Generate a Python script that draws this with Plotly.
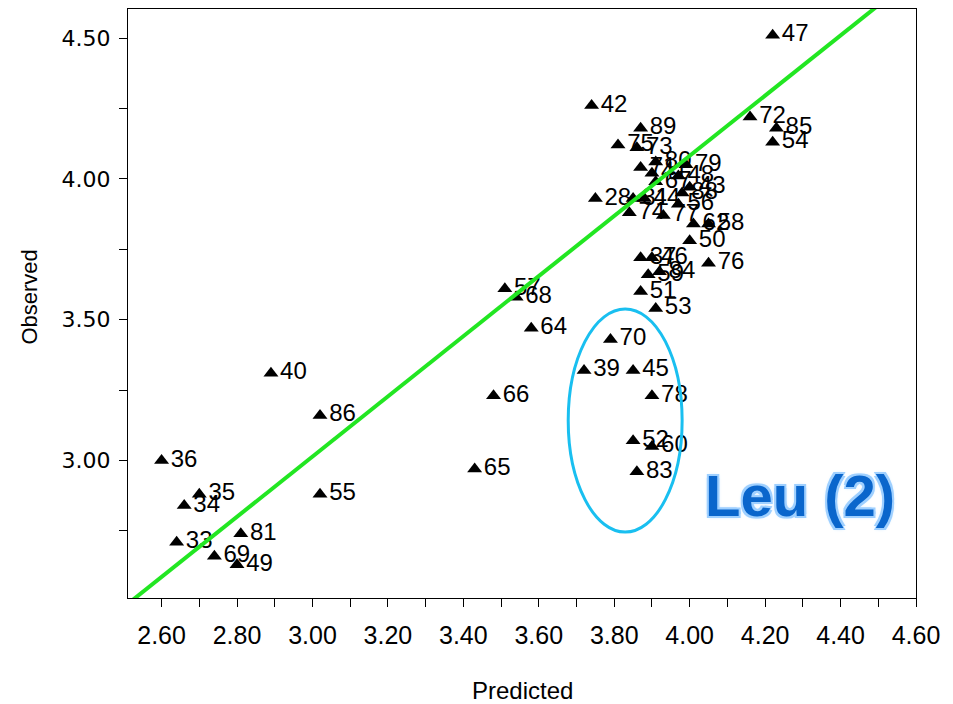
import plotly.graph_objects as go

# Compound IDs with predicted / observed activity
ids = ["33", "34", "35", "36", "49", "69", "81", "40", "86", "55",
       "65", "66", "64", "57", "68",
       "70", "39", "45", "78", "52", "60", "83",
       "42", "89", "75", "73", "71", "80", "41", "79", "48", "67", "43",
       "28", "31", "44", "88", "56", "74", "77", "62", "58", "50",
       "37", "46", "59", "84", "51", "53", "76",
       "72", "85", "54", "47"]
predicted = [2.64, 2.66, 2.70, 2.60, 2.80, 2.74, 2.81, 2.89, 3.02, 3.02,
             3.43, 3.48, 3.58, 3.51, 3.54,
             3.79, 3.72, 3.85, 3.90, 3.85, 3.90, 3.86,
             3.74, 3.87, 3.81, 3.86, 3.87, 3.91, 3.90, 3.99, 3.97, 3.91, 4.00,
             3.75, 3.85, 3.88, 3.98, 3.97, 3.84, 3.93, 4.01, 4.05, 4.00,
             3.87, 3.90, 3.89, 3.92, 3.87, 3.91, 4.05,
             4.16, 4.23, 4.22, 4.22]
observed = [2.71, 2.84, 2.88, 3.00, 2.63, 2.66, 2.74, 3.31, 3.16, 2.88,
            2.97, 3.23, 3.47, 3.61, 3.58,
            3.43, 3.32, 3.32, 3.23, 3.07, 3.05, 2.96,
            4.26, 4.18, 4.12, 4.11, 4.04, 4.06, 4.02, 4.05, 4.01, 3.99, 3.97,
            3.93, 3.93, 3.93, 3.95, 3.91, 3.88, 3.87, 3.84, 3.84, 3.78,
            3.72, 3.72, 3.66, 3.67, 3.60, 3.54, 3.70,
            4.22, 4.18, 4.13, 4.51]

# Regression line
fit_slope = 1.068
fit_intercept = -0.19
fit_x = [2.52, 4.50]
fit_y = [fit_slope * v + fit_intercept for v in fit_x]

# Outlier group outline (predicted / observed bounds)
group_x = [3.678, 3.980]
group_y = [2.746, 3.538]

x_ticks = [round(2.6 + 0.1 * i, 2) for i in range(21)]
x_labels = [f"{v:.2f}" if i % 2 == 0 else "" for i, v in enumerate(x_ticks)]
y_ticks = [2.75, 3.00, 3.25, 3.50, 3.75, 4.00, 4.25, 4.50]
y_labels = ["", "3.00", "", "3.50", "", "4.00", "", "4.50"]

fig = go.Figure()
fig.add_trace(go.Scatter(
    x=predicted, y=observed, text=ids, mode="markers+text",
    textposition="middle right",
    marker=dict(symbol="triangle-up", size=13, color="black"),
    textfont=dict(family="Liberation Sans, Arial", size=24, color="black"),
    cliponaxis=False, hoverinfo="skip",
))
fig.add_trace(go.Scatter(
    x=fit_x, y=fit_y, mode="lines",
    line=dict(color="#22e622", width=4), hoverinfo="skip",
))

fig.add_shape(type="circle", xref="x", yref="y",
              x0=group_x[0], x1=group_x[1], y0=group_y[0], y1=group_y[1],
              line=dict(color="#19bff0", width=3))

outline = "#9fd0ff"
fig.add_annotation(
    text="<b>Leu (2)</b>",
    xref="paper", yref="paper",
    x=(800 - 128) / 788, y=(598 - 495) / 589, showarrow=False,
    xanchor="center", yanchor="middle",
    font=dict(family="Liberation Sans, Arial", size=58, color="#0a66cc",
              shadow=f"2px 2px 0 {outline}, -2px -2px 0 {outline}, "
                     f"2px -2px 0 {outline}, -2px 2px 0 {outline}, 0 0 4px {outline}"),
)
fig.add_annotation(
    text="Observed", xref="paper", yref="paper", textangle=-90,
    x=(30 - 128) / 788, y=0.51, showarrow=False,
    xanchor="center", yanchor="middle",
    font=dict(family="Liberation Sans, Arial", size=22, color="black"),
)
fig.add_annotation(
    text="Predicted", xref="paper", yref="paper",
    x=(522 - 128) / 788, y=(598 - 690) / 589, showarrow=False,
    xanchor="center", yanchor="middle",
    font=dict(family="Liberation Sans, Arial", size=24, color="black"),
)

axis_common = dict(showgrid=False, zeroline=False, showline=True, mirror=True,
                   linecolor="black", linewidth=1, ticks="outside", ticklen=8,
                   tickcolor="black", tickmode="array")
fig.update_xaxes(range=[2.511, 4.60], tickvals=x_ticks, ticktext=x_labels,
                 tickfont=dict(family="Liberation Sans, Arial", size=25, color="black"),
                 ticklabelstandoff=7, **axis_common)
fig.update_yaxes(range=[2.512, 4.603], tickvals=y_ticks, ticktext=y_labels,
                 tickfont=dict(family="DejaVu Sans", size=22, color="black"),
                 ticklabelstandoff=4, **axis_common)

fig.update_layout(
    width=953, height=704, showlegend=False,
    margin=dict(l=128, r=37, t=9, b=106),
    plot_bgcolor="white", paper_bgcolor="white",
)

fig.write_html("out.html")
